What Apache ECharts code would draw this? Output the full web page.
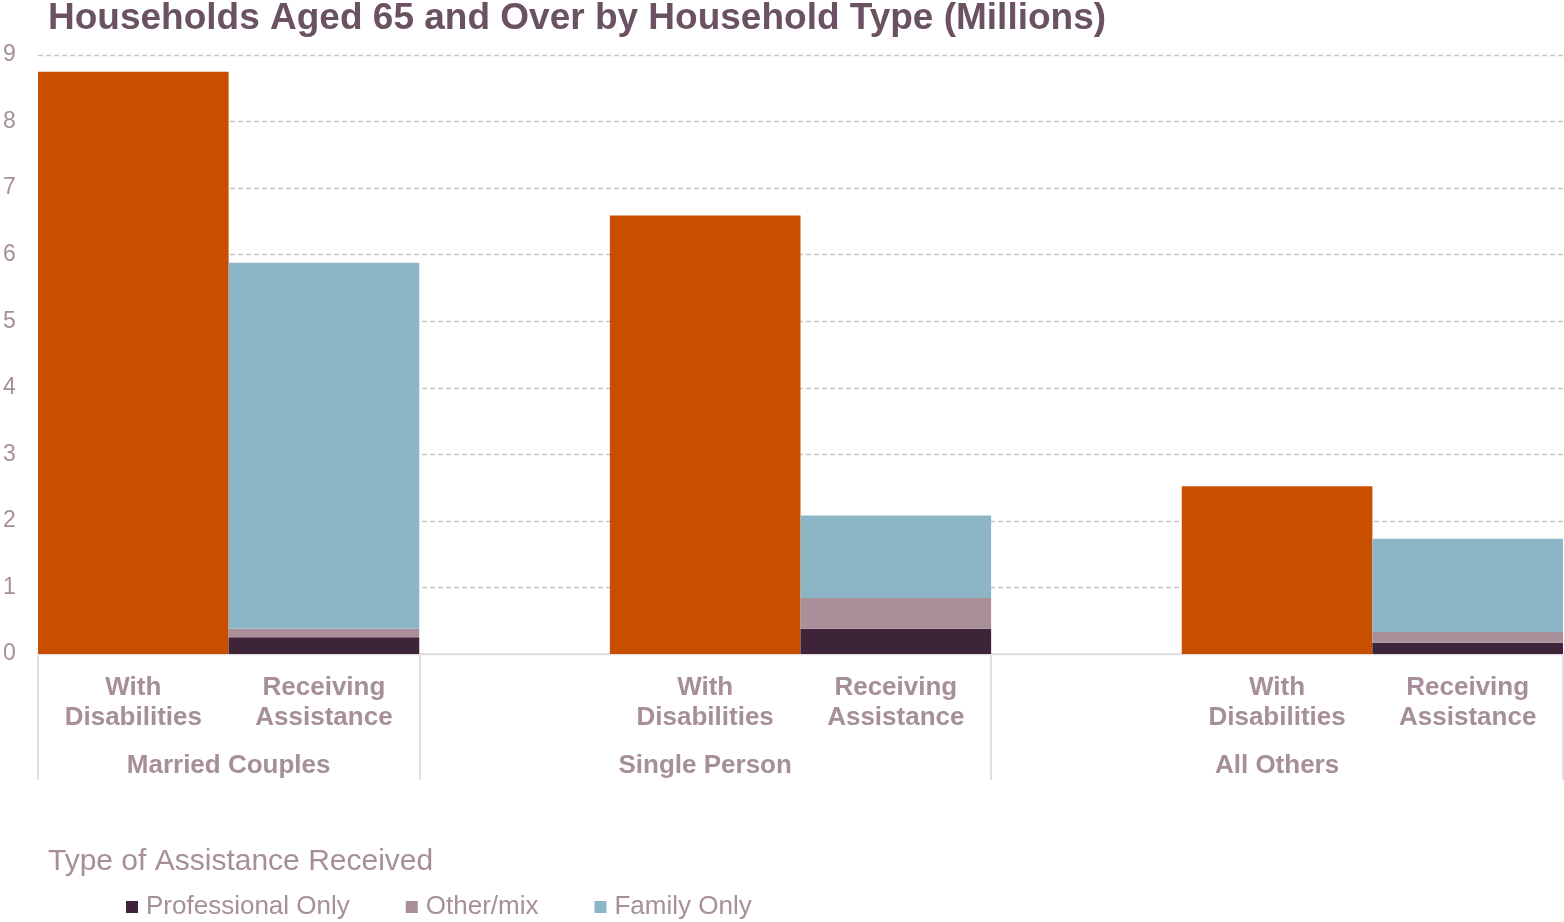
<!DOCTYPE html>
<html>
<head>
<meta charset="utf-8">
<script src="https://cdn.jsdelivr.net/npm/echarts@6/dist/echarts.min.js"></script>
<style>
  html, body { margin: 0; padding: 0; background: #fff; }
  #chart { width: 1564px; height: 922px; }
</style>
</head>
<body>
<div id="chart"></div>
<script>
// slots: 0 WD, 1 RA, 2 gap, 3 WD, 4 RA, 5 gap, 6 WD, 7 RA
var categories = ["With\nDisabilities", "Receiving\nAssistance", "", "With\nDisabilities", "Receiving\nAssistance", "", "With\nDisabilities", "Receiving\nAssistance"];
var groupNames = ["Married Couples", "Single Person", "All Others"];
var groupCenters = [1, 3.5, 6.5];
var groupBounds = [0, 2, 5, 8];
var withDisabilities = [8.75, "-", "-", 6.59, "-", "-", 2.52, "-"];
var professionalOnly = ["-", 0.25, "-", "-", 0.38, "-", "-", 0.17];
var otherMix = ["-", 0.13, "-", "-", 0.46, "-", "-", 0.16];
var familyOnly = ["-", 5.5, "-", "-", 1.24, "-", "-", 1.4];
var yTicks = [0, 9, 1];

var labelColor = "#a68f9b";
var chart = echarts.init(document.getElementById("chart"));

function bar(name, data, color) {
  return {
    name: name,
    type: "bar",
    stack: "all",
    data: data,
    barWidth: "100%",
    itemStyle: { color: color },
    emphasis: { disabled: true }
  };
}

var option = {
  animation: false,
  title: {
    text: "Households Aged 65 and Over by Household Type (Millions)",
    left: 43,
    top: -5,
    textStyle: {
      fontFamily: "Liberation Sans",
      fontSize: 37,
      fontWeight: "bold",
      color: "#6b5262"
    }
  },
  graphic: [{
    type: "text",
    left: 48,
    top: 847,
    style: {
      text: "Type of Assistance Received",
      font: "30px 'Liberation Sans'",
      fill: labelColor
    }
  }],
  legend: {
    data: ["Professional Only", "Other/mix", "Family Only"],
    left: 121,
    top: 889,
    itemWidth: 12,
    itemHeight: 12,
    itemGap: 56,
    icon: "rect",
    textStyle: {
      fontFamily: "Liberation Sans",
      fontSize: 26,
      color: labelColor,
      padding: [0, 0, 0, 3]
    }
  },
  grid: { left: 38, right: 1, top: 55, bottom: 268 },
  xAxis: [{
    type: "category",
    data: categories,
    axisLine: { lineStyle: { color: "#e4dde1", width: 2 } },
    axisTick: { show: false },
    axisLabel: {
      interval: 0,
      margin: 19,
      fontFamily: "Liberation Sans",
      fontSize: 26,
      fontWeight: "bold",
      lineHeight: 30,
      color: labelColor
    }
  }, {
    type: "value",
    min: 0,
    max: 8,
    position: "bottom",
    axisLine: { show: false },
    splitLine: { show: false },
    axisTick: {
      show: true,
      customValues: groupBounds,
      length: 126,
      lineStyle: { color: "#e4dde1", width: 2 }
    },
    axisLabel: {
      customValues: groupCenters,
      margin: 99,
      fontFamily: "Liberation Sans",
      fontSize: 26,
      fontWeight: "bold",
      color: labelColor,
      formatter: function (v) {
        var i = groupCenters.indexOf(v);
        return i >= 0 ? groupNames[i] : "";
      }
    }
  }],
  yAxis: {
    type: "value",
    min: yTicks[0],
    max: yTicks[1],
    interval: yTicks[2],
    axisLine: { show: false },
    axisTick: { show: false },
    splitLine: { lineStyle: { type: [5, 3], color: "#c6c6c6", width: 1.3 } },
    axisLabel: {
      align: "left",
      margin: 35,
      fontFamily: "Liberation Sans",
      fontSize: 23,
      color: labelColor
    }
  },
  series: [
    bar("With Disabilities", withDisabilities, "#c84f00"),
    bar("Professional Only", professionalOnly, "#3d2438"),
    bar("Other/mix", otherMix, "#a88f9a"),
    bar("Family Only", familyOnly, "#8cb6c6")
  ]
};
chart.setOption(option);
</script>
</body>
</html>
